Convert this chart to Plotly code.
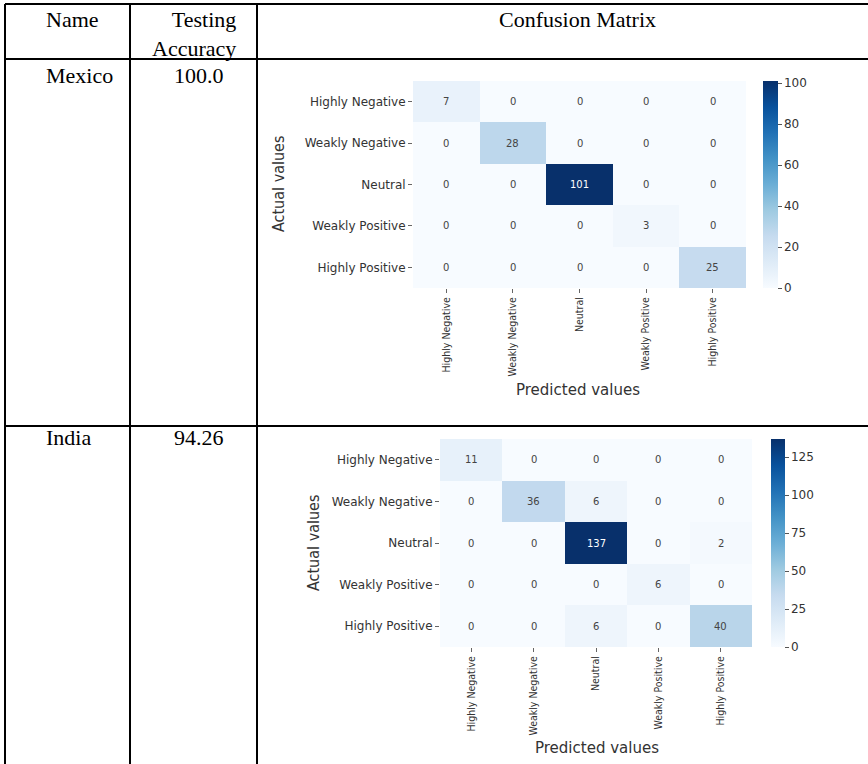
import plotly.graph_objects as go

W, H = 868, 764

# --- data -------------------------------------------------------------------
classes = ["Highly Negative", "Weakly Negative", "Neutral", "Weakly Positive", "Highly Positive"]

countries = ["Mexico", "India"]
accuracies = ["100.0", "94.26"]

cm_mexico = [
    [7, 0, 0, 0, 0],
    [0, 28, 0, 0, 0],
    [0, 0, 101, 0, 0],
    [0, 0, 0, 3, 0],
    [0, 0, 0, 0, 25],
]
cm_india = [
    [11, 0, 0, 0, 0],
    [0, 36, 6, 0, 0],
    [0, 0, 137, 0, 2],
    [0, 0, 0, 6, 0],
    [0, 0, 6, 0, 40],
]
ticks_mexico = [0, 20, 40, 60, 80, 100]
ticks_india = [0, 25, 50, 75, 100, 125]

header = ["Name", "Testing<br>Accuracy", "Confusion Matrix"]

# matplotlib "Blues"
blues = [
    [0.0, "#f7fbff"], [0.125, "#deebf7"], [0.25, "#c6dbef"], [0.375, "#9ecae1"],
    [0.5, "#6baed6"], [0.625, "#4292c6"], [0.75, "#2171b5"], [0.875, "#08519c"],
    [1.0, "#08306b"],
]


def fx(px):
    return px / W


def fy(py):
    return 1 - py / H


SANS = "DejaVu Sans, Verdana, sans-serif"
NARROW = "DejaVu Sans Condensed, Liberation Sans Narrow, Arial Narrow, DejaVu Sans, sans-serif"
SERIF = "Liberation Serif, Times New Roman, serif"
GREY = "#333333"

fig = go.Figure()
annotations = []


def note(px, py, text, font, xanchor="center", **kw):
    annotations.append(dict(x=fx(px), y=fy(py), xref="paper", yref="paper",
                            xanchor=xanchor, yanchor="middle", text=text,
                            showarrow=False, font=font, **kw))


# pixel boxes for each matrix: cells (x0, x1, y0, y1), colourbar (x, width), axis-title positions
panels = [
    dict(cm=cm_mexico, ticks=ticks_mexico, cells=(413, 746, 81, 288), cbx=763, cbw=15,
         ylab=(278, 184), xlab=(578, 390), xa="x", ya="y"),
    dict(cm=cm_india, ticks=ticks_india, cells=(440, 752, 439, 647), cbx=771, cbw=14,
         ylab=(313, 543), xlab=(597, 748), xa="x2", ya="y2"),
]

layout_axes = {}
for i, p in enumerate(panels):
    x0, x1, y0, y1 = p["cells"]
    zmax = max(max(r) for r in p["cm"])
    fig.add_trace(go.Heatmap(
        z=p["cm"], x=classes, y=classes, xaxis=p["xa"], yaxis=p["ya"],
        colorscale=blues, zmin=0, zmax=zmax, hoverinfo="skip",
        colorbar=dict(
            x=fx(p["cbx"]), xanchor="left", xpad=0, ypad=0,
            y=fy((y0 + y1) / 2), yanchor="middle",
            lenmode="pixels", len=y1 - y0,
            thicknessmode="pixels", thickness=p["cbw"],
            outlinewidth=0, ticks="outside", ticklen=4, tickwidth=1, tickcolor="#555",
            tickvals=p["ticks"], tickfont=dict(family=SANS, size=12, color=GREY),
        ),
    ))
    # cell values
    for r, row in enumerate(p["cm"]):
        for c, v in enumerate(row):
            annotations.append(dict(
                x=classes[c], y=classes[r], xref=p["xa"], yref=p["ya"],
                text=str(v), showarrow=False,
                font=dict(family=SANS, size=10, color="white" if v > 0.6 * zmax else "#444"),
            ))
    ax_suffix = "" if i == 0 else "2"
    layout_axes["xaxis" + ax_suffix] = dict(
        domain=[fx(x0), fx(x1)], anchor="y" + ax_suffix, type="category",
        tickangle=-90, ticks="outside", ticklen=4, tickcolor="#666",
        showgrid=False, zeroline=False, showline=False,
        tickfont=dict(family=NARROW, size=10.5, color=GREY),
    )
    layout_axes["yaxis" + ax_suffix] = dict(
        domain=[fy(y1), fy(y0)], anchor="x" + ax_suffix, type="category",
        autorange="reversed", ticks="outside", ticklen=4, tickcolor="#666",
        showgrid=False, zeroline=False, showline=False,
        tickfont=dict(family=SANS, size=12, color=GREY),
    )
    note(p["ylab"][0], p["ylab"][1], "Actual values",
         dict(family=NARROW, size=16, color=GREY), textangle=-90)
    note(p["xlab"][0], p["xlab"][1], "Predicted values",
         dict(family=SANS, size=15, color=GREY))

# --- table text ---------------------------------------------------------------
tfont = dict(family=SERIF, size=22, color="black")
note(44, 20, header[0], tfont, xanchor="left")
note(238, 34, header[1], tfont, xanchor="right", align="right")
note(577, 20, header[2], tfont)
for name, acc, ry in zip(countries, accuracies, [76, 437]):
    note(44, ry, name, tfont, xanchor="left")
    note(172, ry, acc, tfont, xanchor="left")

# --- table rules ----------------------------------------------------------------
line = dict(color="black", width=2)
shapes = []
for yy in [4, 59, 426]:
    shapes.append(dict(type="line", xref="paper", yref="paper",
                       x0=fx(5), x1=1, y0=fy(yy), y1=fy(yy), line=line))
for xx in [5, 130, 257]:
    shapes.append(dict(type="line", xref="paper", yref="paper",
                       x0=fx(xx), x1=fx(xx), y0=fy(4), y1=0, line=line))

fig.update_layout(
    width=W, height=H, margin=dict(l=0, r=0, t=0, b=0),
    paper_bgcolor="white", plot_bgcolor="white",
    showlegend=False, annotations=annotations, shapes=shapes,
    **layout_axes,
)

fig.write_html("out.html")
